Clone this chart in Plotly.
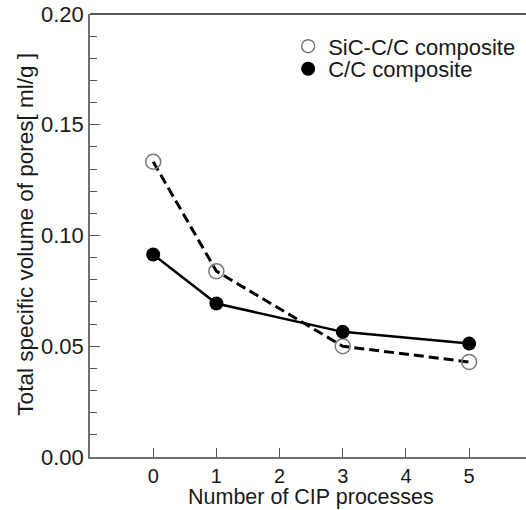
import plotly.graph_objects as go

x_vals = [0, 1, 3, 5]
sic_cc = [0.1333, 0.0839, 0.0500, 0.0429]
cc = [0.0914, 0.0693, 0.0565, 0.0512]
x_ticks = [0, 1, 2, 3, 4, 5]
y_ticks = [0.00, 0.05, 0.10, 0.15, 0.20]
y_tick_labels = ["0.00", "0.05", "0.10", "0.15", "0.20"]
series_names = ["SiC-C/C composite", "C/C composite"]
x_title = "Number of CIP processes"
y_title = "Total specific volume of pores[ ml/g ]"

FONT = "Arial, Liberation Sans, sans-serif"
TXT = "#1a1a1a"

open_marker = dict(symbol="circle-open", size=15, color="#777777", line=dict(width=1.5, color="#777777"))
fill_marker = dict(symbol="circle", size=14, color="black")

fig = go.Figure()
fig.add_trace(go.Scatter(
    x=x_vals, y=sic_cc, mode="lines+markers", showlegend=False,
    line=dict(color="black", width=3, dash="10px,5px"), marker=open_marker,
))
fig.add_trace(go.Scatter(
    x=x_vals, y=cc, mode="lines+markers", showlegend=False,
    line=dict(color="black", width=2.5), marker=fill_marker,
))
# legend-only entries (markers only), each in its own legend for exact spacing
fig.add_trace(go.Scatter(
    x=[None], y=[None], mode="markers", name=series_names[0],
    marker=dict(symbol="circle-open", size=13, color="#777777", line=dict(width=1.5, color="#777777")),
    legend="legend",
))
fig.add_trace(go.Scatter(
    x=[None], y=[None], mode="markers", name=series_names[1],
    marker=fill_marker, legend="legend2",
))

leg_common = dict(xanchor="left", yanchor="middle", bgcolor="rgba(0,0,0,0)",
                  font=dict(size=22, family=FONT, color=TXT), itemwidth=30)

fig.update_layout(
    width=526, height=510,
    margin=dict(l=90, r=0, t=14, b=53),
    plot_bgcolor="white", paper_bgcolor="white",
    font=dict(family=FONT, color=TXT),
    legend=dict(x=0.4545, y=0.927, **leg_common),
    legend2=dict(x=0.4545, y=0.876, **leg_common),
    xaxis=dict(
        range=[-1, 5.9], tickmode="array", tickvals=x_ticks,
        ticks="inside", ticklen=9, tickwidth=1.2, tickcolor="#555555",
        showline=True, linecolor="#707070", linewidth=1.5,
        showgrid=False, zeroline=False, automargin=False,
        tickfont=dict(size=20, family=FONT, color=TXT),
    ),
    yaxis=dict(
        range=[0, 0.2], tickmode="array", tickvals=y_ticks, ticktext=y_tick_labels,
        ticks="inside", ticklen=10, tickwidth=1.2, tickcolor="#555555",
        minor=dict(dtick=0.01, ticks="inside", ticklen=7, tickcolor="#555555", tickwidth=1.2, showgrid=False),
        showline=True, linecolor="#707070", linewidth=1.5,
        showgrid=False, zeroline=False, automargin=False,
        tickfont=dict(size=22, family=FONT, color=TXT),
    ),
    shapes=[dict(type="line", xref="paper", yref="paper", x0=0, x1=1, y0=1, y1=1,
                 line=dict(color="#222222", width=1.5))],
    annotations=[
        dict(text=x_title, xref="paper", yref="paper", x=0.507, y=-0.091,
             xanchor="center", yanchor="middle", showarrow=False,
             font=dict(size=21.5, family=FONT, color=TXT)),
        dict(text=y_title, xref="paper", yref="paper", x=-0.147, y=0.504,
             xanchor="center", yanchor="middle", showarrow=False, textangle=-90,
             font=dict(size=22.5, family=FONT, color=TXT)),
    ],
)

fig.write_html("out.html", config={"displayModeBar": False},
               post_script="document.body.style.margin='0';document.body.style.overflow='hidden';")
